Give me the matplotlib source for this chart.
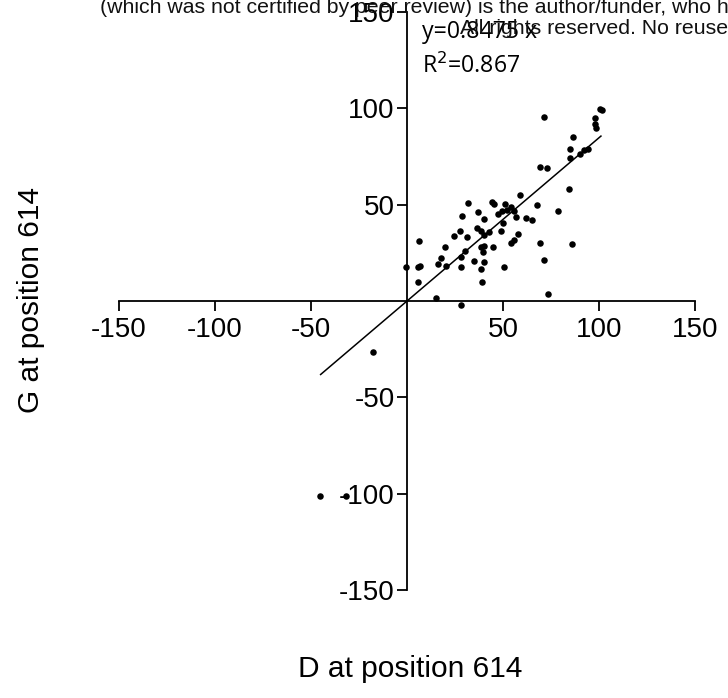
import matplotlib
matplotlib.use("Agg")
import matplotlib.pyplot as plt
import numpy as np

plt.rcParams['font.family'] = ['Liberation Sans', 'DejaVu Sans']

# Data
d_vals = [71.4, 100.3, 101.4, 97.8, 98.1, 98.3, 86.4, 84.8, 84.8, 90.3, 92.2, 94.3,
          69.3, 72.8, 84.5, 59.0, 67.6, 78.4, 31.7, 28.4, 36.9, 40.3, 44.0, 45.5,
          50.9, 54.1, 47.4, 49.5, 52.1, 55.9, 56.9, 62.1, 65.0, 49.8, 36.2, 38.3,
          40.0, 42.6, 27.6, 24.5, 31.4, 48.8, 57.9, 55.5, 54.3, 44.7, 40.0, 38.6,
          39.7, 30.0, 27.9, 19.8, 17.6, 15.9, 20.5, 34.8, 40.3, 27.9, 38.3, 50.3,
          69.0, 85.7, 71.6, 6.0, -0.3, 5.5, 6.9, 5.5, 15.0, 28.0, 39.0, 73.5,
          -17.9, -45.3, -31.9]
g_vals = [95.3, 99.5, 99.1, 94.8, 92.0, 90.0, 85.3, 78.7, 74.4, 76.3, 78.4, 78.7,
          69.6, 69.0, 58.1, 55.2, 49.8, 46.5, 51.0, 44.1, 46.0, 42.6, 51.2, 50.2,
          50.5, 48.6, 45.0, 46.7, 47.2, 46.7, 43.8, 42.9, 41.9, 40.7, 38.1, 36.5,
          34.3, 35.8, 36.3, 33.9, 33.4, 36.3, 34.8, 31.7, 30.3, 28.2, 28.7, 28.2,
          25.4, 26.1, 23.0, 28.2, 22.1, 19.0, 18.2, 20.6, 20.4, 17.5, 16.4, 17.5,
          30.3, 29.6, 21.1, 31.1, 17.5, 17.8, 18.3, 9.7, 1.5, -2.0, 9.7, 3.5,
          -26.6, -101.0, -101.0]
slope = 0.8475
r2 = 0.867
fit_range = [-45.0, 101.0]
xticks = [-150, -100, -50, 50, 100, 150]
yticks = [-150, -100, -50, 50, 100, 150]

fig = plt.figure(figsize=(7.28, 6.98), dpi=100)
ax = fig.add_axes([0.1635, 0.1547, 0.7912, 0.8281])

ax.scatter(d_vals, g_vals, s=22, color='black', zorder=3, linewidths=0)
fx = np.array(fit_range)
ax.plot(fx, slope * fx, color='black', lw=1.1, zorder=2)

ax.set_xlim(-150, 150)
ax.set_ylim(-150, 150)
for side in ['top', 'right']:
    ax.spines[side].set_visible(False)
ax.spines['left'].set_position(('data', 0))
ax.spines['bottom'].set_position(('data', 0))
ax.spines['left'].set_linewidth(1.3)
ax.spines['bottom'].set_linewidth(1.3)
ax.set_xticks(xticks)
ax.set_yticks(yticks)
ax.set_xticklabels([str(t) for t in xticks])
ax.set_yticklabels([str(t) for t in yticks])
ax.tick_params(direction='out', length=7.5, width=1.3, labelsize=20, pad=1.5)
ax.tick_params(axis='x', pad=4)

fig.text(0.042, 0.57, 'G at position 614', rotation=90, fontsize=21.5,
         ha='center', va='center')
fig.text(0.563, 0.041, 'D at position 614', fontsize=21.5, ha='center', va='center')

ax.text(0.5797, 0.9456, 'y=0.8475 x', transform=fig.transFigure, fontsize=16.7,
        family=['Open Sans', 'DejaVu Sans'], va='baseline')
ax.text(0.5797, 0.8954, 'R$^2$=0.867', transform=fig.transFigure, fontsize=16.7,
        family=['Open Sans', 'DejaVu Sans'], va='baseline')

fig.text(0.137, 0.981, '(which was not certified by peer review) is the author/funder, who h',
         fontsize=15.3, va='baseline', color='#111111')
fig.text(0.632, 0.951, 'All rights reserved. No reuse', fontsize=15.3,
         va='baseline', color='#111111')

fig.savefig('out.png', dpi=100)
